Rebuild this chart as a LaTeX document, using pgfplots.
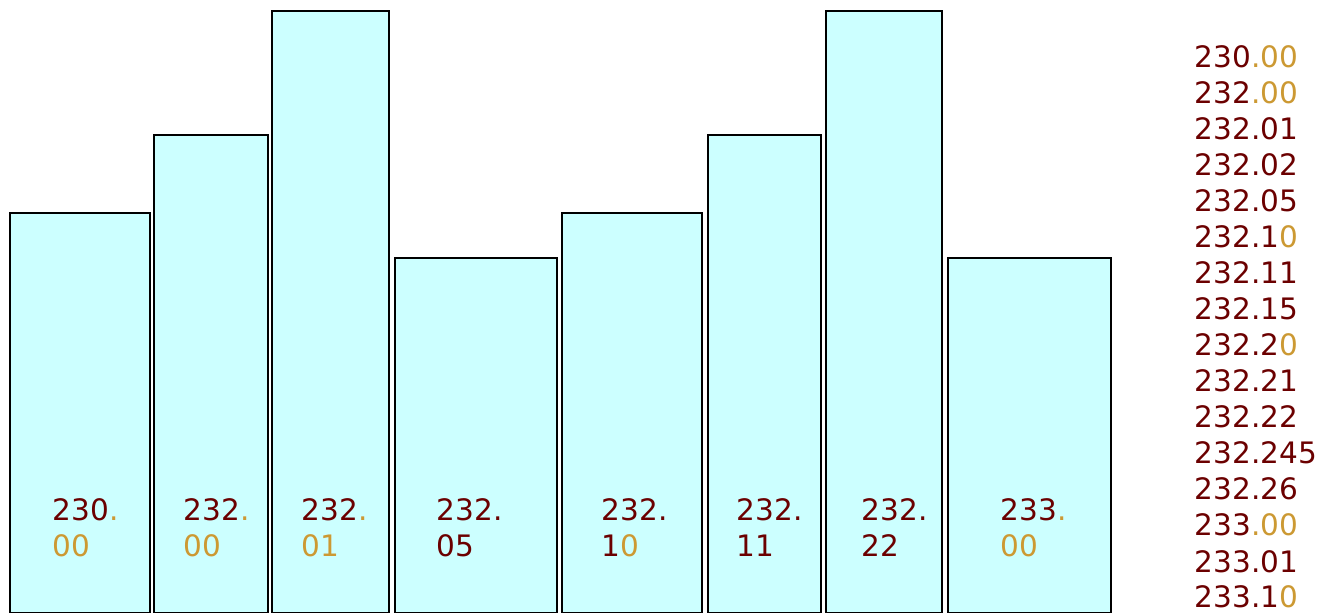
\documentclass[border=0pt]{standalone}
\usepackage{pgfplots}
\pgfplotsset{compat=1.18}
\usepackage{fontspec}
\setmainfont{DejaVu Sans}
\definecolor{barfill}{HTML}{CCFFFF}
\definecolor{dred}{HTML}{6B0000}
\definecolor{gold}{HTML}{CC9933}
\newcommand{\z}[1]{\textcolor{gold}{#1}}
\pgfplotsset{bar/.style={draw=black, line width=0.4pt, fill=barfill, mark=none, solid}}

\begin{document}
\begin{tikzpicture}
  \begin{axis}[
    x=0.01cm, y=0.01cm,
    xmin=0, xmax=1317, ymin=0, ymax=613,
    hide axis,
    clip=true,
    ]
    % bars: left edge, right edge, height (pixels from bottom)
    \addplot[bar] coordinates {(10,-5) (10,400) (150,400) (150,-5)} \closedcycle;
    \addplot[bar] coordinates {(154,-5) (154,478) (268,478) (268,-5)} \closedcycle;
    \addplot[bar] coordinates {(272,-5) (272,602) (389,602) (389,-5)} \closedcycle;
    \addplot[bar] coordinates {(395,-5) (395,355) (557,355) (557,-5)} \closedcycle;
    \addplot[bar] coordinates {(562,-5) (562,400) (702,400) (702,-5)} \closedcycle;
    \addplot[bar] coordinates {(708,-5) (708,478) (821,478) (821,-5)} \closedcycle;
    \addplot[bar] coordinates {(826,-5) (826,602) (942,602) (942,-5)} \closedcycle;
    \addplot[bar] coordinates {(948,-5) (948,355) (1111,355) (1111,-5)} \closedcycle;

    \path[draw=none] (axis cs:0,0) rectangle (axis cs:1317,613);
  \end{axis}

  \begin{scope}[every node/.style={anchor=base west, inner sep=0pt, text=dred,
      font=\fontsize{8.4}{10}\selectfont}]
    % labels inside the bars
    \foreach \x/\a/\b in {
        52/{230\z{.}}/{\z{00}},
        183/{232\z{.}}/{\z{00}},
        301/{232\z{.}}/{\z{01}},
        436/{232.}/{05},
        601/{232.}/{1\z{0}},
        736/{232.}/{11},
        861/{232.}/{22},
        1000/{233\z{.}}/{\z{00}}} {
      \node at (\x*0.01cm, {(613-521)*0.01cm}) {\a};
      \node at (\x*0.01cm, {(613-557)*0.01cm}) {\b};
    }
    % list on the right
    \foreach \t [count=\i from 0] in {
        {230\z{.00}}, {232\z{.00}}, {232.01}, {232.02}, {232.05}, {232.1\z{0}},
        {232.11}, {232.15}, {232.2\z{0}}, {232.21}, {232.22}, {232.245},
        {232.26}, {233\z{.00}}, {233.01}, {233.1\z{0}}} {
      \node at (1194*0.01cm, {(613-68-36*\i)*0.01cm}) {\t};
    }
  \end{scope}
\end{tikzpicture}
\end{document}
